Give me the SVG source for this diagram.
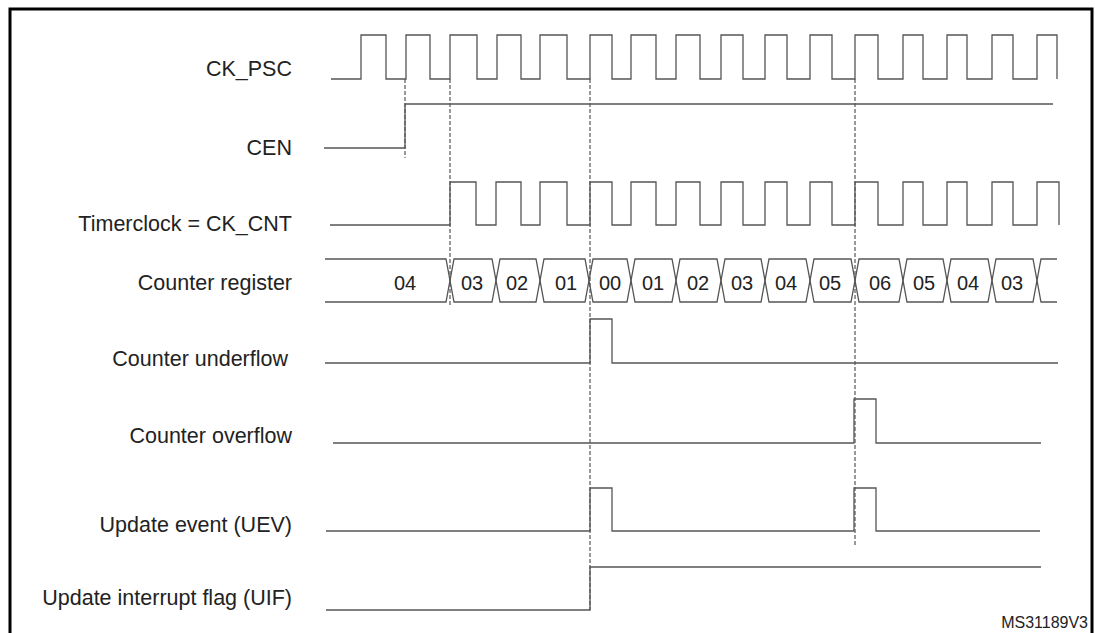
<svg xmlns="http://www.w3.org/2000/svg" width="1095" height="633" viewBox="0 0 1095 633">
<style>
.w{fill:none;stroke:#555;stroke-width:1.3}
.d{fill:none;stroke:#333;stroke-width:1;stroke-dasharray:4 2}
.l{font-family:"Liberation Sans",Arial,sans-serif;font-size:21.5px;fill:#222;text-anchor:end}
.v{font-family:"Liberation Sans",Arial,sans-serif;font-size:20px;fill:#222;text-anchor:middle}
</style>
<rect x="0" y="0" width="1095" height="633" fill="#fff"/>
<rect x="10" y="9" width="1082" height="630" fill="none" stroke="#000" stroke-width="3"/>
<g id="labels">
<text class="l" x="292" y="76">CK_PSC</text>
<text class="l" x="292" y="155">CEN</text>
<text class="l" x="292" y="231">Timerclock = CK_CNT</text>
<text class="l" x="292" y="290">Counter register</text>
<text class="l" x="288" y="366">Counter underflow</text>
<text class="l" x="292" y="443">Counter overflow</text>
<text class="l" x="292" y="532">Update event (UEV)</text>
<text class="l" x="292" y="605">Update interrupt flag (UIF)</text>
<text x="1088" y="628" font-family="Liberation Sans,Arial,sans-serif" font-size="16" text-anchor="end" fill="#222">MS31189V3</text>
</g>
<g id="connectors">
<line class="d" x1="405" y1="79" x2="405" y2="158"/>
<line class="d" x1="450" y1="79" x2="450" y2="306"/>
<line class="d" x1="590" y1="79" x2="590" y2="610"/>
<line class="d" x1="855" y1="79" x2="855" y2="545"/>
</g>
<g id="ck_psc"><path class="w" d="M331 79H361V35H386V79H406V35H430V79H450V35H477V79H497V35H521V79H540V35H567V79H590V35H612V79H631V35H656V79H676V35H700V79H721V35H743V79H765V35H787V79H810V35H832V79H855V35H878V79H903V35H923V79H947V35H967V79H992V35H1013V79H1037V35H1057V79"/></g>
<g id="cen"><path class="w" d="M324 148H405V104H1053"/></g>
<g id="timerclock"><path class="w" d="M330 225H450V182H476V225H496V182H521V225H540V182H567V225H590V182H612V225H631V182H656V225H676V182H700V225H721V182H743V225H765V182H787V225H810V182H832V225H855V182H878V225H903V182H923V225H947V182H967V225H992V182H1013V225H1037V182H1059V225"/></g>
<g id="counter">
<path class="w" d="M325 259H446L454 302H492L500 259H536L544 302H585L593 259H627L635 302H672L680 259H717L725 302H761L769 259H806L814 302H851L859 259H899L907 302H943L951 259H988L996 302H1033L1041 259H1057"/>
<path class="w" d="M325 302H446L454 259H492L500 302H536L544 259H585L593 302H627L635 259H672L680 302H717L725 259H761L769 302H806L814 259H851L859 302H899L907 259H943L951 302H988L996 259H1033L1041 302H1057"/>
<text class="v" x="405" y="290">04</text>
<text class="v" x="472" y="290">03</text>
<text class="v" x="517" y="290">02</text>
<text class="v" x="566" y="290">01</text>
<text class="v" x="610" y="290">00</text>
<text class="v" x="653" y="290">01</text>
<text class="v" x="698" y="290">02</text>
<text class="v" x="742" y="290">03</text>
<text class="v" x="786" y="290">04</text>
<text class="v" x="830" y="290">05</text>
<text class="v" x="880" y="290">06</text>
<text class="v" x="924" y="290">05</text>
<text class="v" x="968" y="290">04</text>
<text class="v" x="1012" y="290">03</text>
</g>
<g id="underflow"><path class="w" d="M325 363H590V319H612V363H1058"/></g>
<g id="overflow"><path class="w" d="M333 443H854V399H876V443H1041"/></g>
<g id="uev"><path class="w" d="M326 531H590V488H612V531H854V488H876V531H1040"/></g>
<g id="uif"><path class="w" d="M326 610H590V567H1041"/></g>
</svg>
